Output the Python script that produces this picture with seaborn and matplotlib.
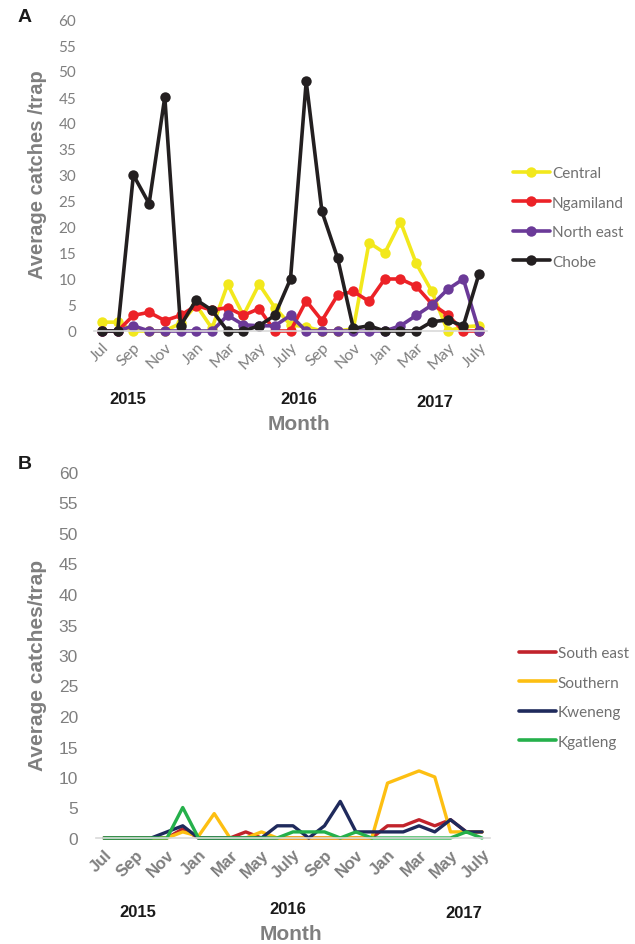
import matplotlib
matplotlib.use("Agg")
import matplotlib.pyplot as plt
import seaborn as sns
from matplotlib.lines import Line2D

# month positions Jul 2015 .. July 2017
months = ['Jul', 'Aug', 'Sep', 'Oct', 'Nov', 'Dec', 'Jan', 'Feb', 'Mar', 'Apr', 'May', 'Jun',
          'July', 'Aug', 'Sep', 'Oct', 'Nov', 'Dec', 'Jan', 'Feb', 'Mar', 'Apr', 'May', 'Jun', 'July']
years = ['2015', '2016', '2017']

# panel A
central = [1.7, 1.7, 0, 0, 0, 1.5, 5, 0.5, 9, 3, 9, 4.5, 1.2, 0.8, 0, 0, 0.4, 17, 15, 21, 13, 7.6, 0, 0.8, 1]
ngamiland = [0, 0, 3, 3.6, 2, 3, 4.9, 4, 4.5, 3, 4.3, 0, 0, 5.8, 2, 6.9, 7.6, 5.7, 10, 10, 8.6, 5.2, 3.1, 0, 0]
north_east = [0, 0, 1, 0, 0, 0, 0, 0, 3, 1.2, 1, 1, 3, 0, 0, 0, 0, 0, 0, 1, 3, 5, 8, 10, 0]
chobe = [0, 0, 30, 24.5, 45, 1, 6, 4, 0, 0, 1, 3, 10, 48, 23, 14, 0.5, 1, 0, 0, 0, 1.8, 2.1, 1, 11]

# panel B
south_east = [0, 0, 0, 0, 0, 1.5, 0, 0, 0, 1, 0, 0, 0, 0, 0, 0, 0, 0, 2, 2, 3, 2, 3, 1, 1]
southern = [0, 0, 0, 0, 0, 1, 0.3, 4, 0, 0, 1, 0, 0, 0, 0, 0, 0, 0, 9, 10, 11, 10, 1, 1, 1]
kweneng = [0, 0, 0, 0, 1, 2, 0, 0, 0, 0, 0, 2, 2, 0, 2, 6, 1, 1, 1, 1, 2, 1, 3, 1, 1]
kgatleng = [0, 0, 0, 0, 0, 5, 0, 0, 0, 0, 0, 0, 1, 1, 1, 0, 1, 0, 0, 0, 0, 0, 0, 1, 0]

series_a = [('Central', central, '#f2e81c'), ('Ngamiland', ngamiland, '#ec2227'),
            ('North east', north_east, '#6b3a98'), ('Chobe', chobe, '#231f20')]
series_b = [('South east', south_east, '#c1232b'), ('Southern', southern, '#fdbf12'),
            ('Kweneng', kweneng, '#1f2a5c'), ('Kgatleng', kgatleng, '#25b04b')]

sns.set_style("white")
plt.rcParams['font.family'] = ['Lato', 'DejaVu Sans']

W, H = 635, 945
fig = plt.figure(figsize=(W / 100, H / 100), dpi=100)
axA = fig.add_axes([94.1 / W, 1 - 332 / H, 392.8 / W, 312 / H])
axB = fig.add_axes([96.1 / W, 1 - 839 / H, 393.8 / W, 366 / H])
x = list(range(len(months)))


def style_axis(ax, tick_font, tick_size, tick_weight, ysize, yfont):
    ax.set_xlim(-0.5, 24.5)
    ax.set_ylim(0, 60)
    ax.set_yticks(range(0, 61, 5))
    ax.set_xticks(x[::2])
    ax.set_xticklabels(months[::2], rotation=45, ha='right', rotation_mode='anchor',
                       fontsize=tick_size, color='#7f7f7f', family=tick_font, weight=tick_weight)
    for lab in ax.get_yticklabels():
        lab.set_fontsize(ysize)
        lab.set_color('#7f7f7f')
        lab.set_family(yfont)
    ax.tick_params(length=0)
    ax.tick_params(axis='y', pad=13)
    ax.tick_params(axis='x', pad=6)
    for s in ['top', 'right', 'left']:
        ax.spines[s].set_visible(False)
    ax.spines['bottom'].set_color('#d9d9d9')
    ax.spines['bottom'].set_linewidth(1.2)
    ax.set_xlabel('')
    ax.set_ylabel('')


# panel A with markers
for name, vals, col in series_a:
    sns.lineplot(x=x, y=vals, ax=axA, color=col, linewidth=2.6, marker='o', markersize=7.5,
                 markeredgewidth=0, clip_on=False, legend=False)
style_axis(axA, ['Lato', 'DejaVu Sans'], 11.5, 'normal', 11, ['Lato', 'DejaVu Sans'])
hA = [Line2D([], [], color=c, lw=2.6, marker='o', markersize=7.5, markeredgewidth=0) for _, _, c in series_a]
fig.legend(hA, [n for n, _, _ in series_a], loc='upper left', bbox_to_anchor=(513 / W, 1 - 167 / H),
           frameon=False, fontsize=11, labelcolor='#707070', handlelength=2.4, handletextpad=0.15,
           labelspacing=1.02, borderpad=0, borderaxespad=0)

# panel B lines only
for name, vals, col in series_b:
    sns.lineplot(x=x, y=vals, ax=axB, color=col, linewidth=2.4, clip_on=False, legend=False)
style_axis(axB, ['Liberation Sans', 'DejaVu Sans'], 12, 'bold', 12.5, ['Liberation Sans', 'DejaVu Sans'])
hB = [Line2D([], [], color=c, lw=2.6, solid_capstyle='round') for _, _, c in series_b]
fig.legend(hB, [n for n, _, _ in series_b], loc='upper left', bbox_to_anchor=(519 / W, 1 - 647 / H),
           frameon=False, fontsize=11, labelcolor='#707070', handlelength=2.4, handletextpad=0.15,
           labelspacing=1.02, borderpad=0, borderaxespad=0)

# labels
bold = dict(family=['Liberation Sans', 'DejaVu Sans'], weight='bold')
fig.text(25 / W, 1 - 18 / H, 'A', ha='center', va='center', fontsize=14, color='#1a1a1a', **bold)
fig.text(25 / W, 1 - 465 / H, 'B', ha='center', va='center', fontsize=14, color='#1a1a1a', **bold)
fig.text(38 / W, 1 - 175 / H, 'Average catches /trap', rotation=90, ha='center', va='center',
         fontsize=14.5, color='#7f7f7f', **bold)
fig.text(38 / W, 1 - 665 / H, 'Average catches/trap', rotation=90, ha='center', va='center',
         fontsize=15, color='#7f7f7f', **bold)
for yr, px, py in zip(years, [128, 299, 435], [400, 400, 403]):
    fig.text(px / W, 1 - py / H, yr, ha='center', va='center', fontsize=12, color='#1a1a1a', **bold)
for yr, px, py in zip(years, [138, 288, 464], [913, 910, 914]):
    fig.text(px / W, 1 - py / H, yr, ha='center', va='center', fontsize=12, color='#1a1a1a', **bold)
fig.text(299 / W, 1 - 425 / H, 'Month', ha='center', va='center', fontsize=15, color='#7f7f7f', **bold)
fig.text(291 / W, 1 - 935 / H, 'Month', ha='center', va='center', fontsize=15, color='#7f7f7f', **bold)

fig.savefig('out.png', dpi=100)
